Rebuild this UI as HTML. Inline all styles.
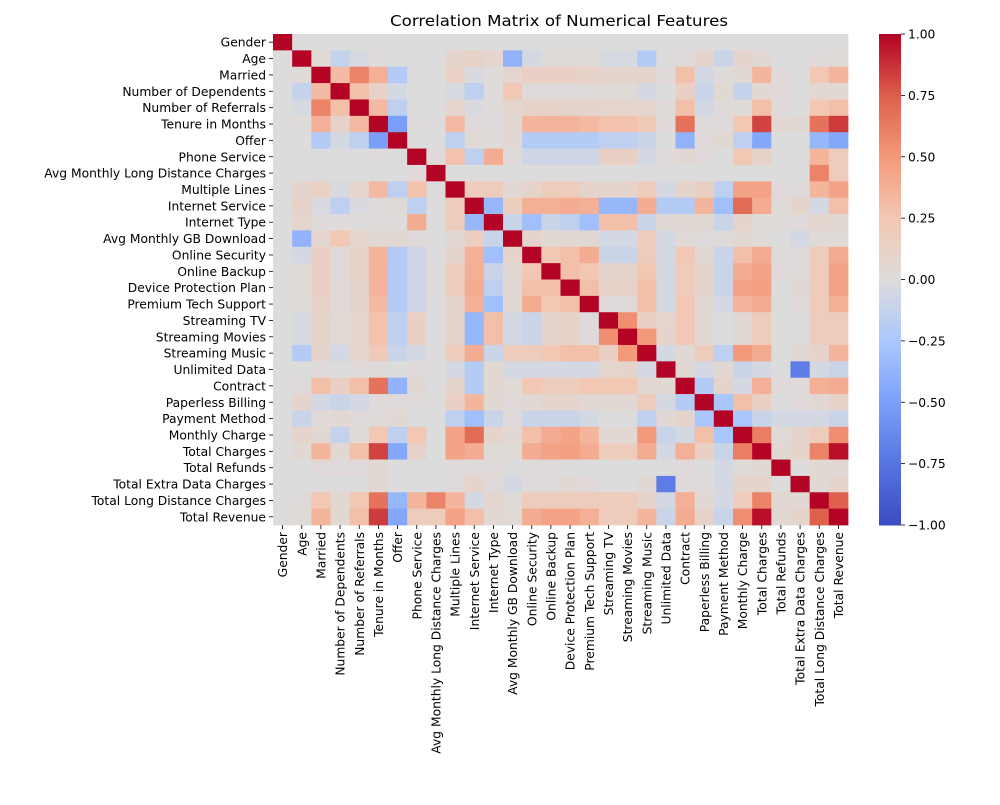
<!DOCTYPE html>
<html><head><meta charset="utf-8"><style>
body{margin:0;background:#fff}
svg{font-family:"DejaVu Sans","Liberation Sans",sans-serif}
</style></head><body>
<svg id="chart" width="1000" height="800" xmlns="http://www.w3.org/2000/svg">
<text x="559" y="26" text-anchor="middle" font-size="15" textLength="338" lengthAdjust="spacingAndGlyphs">Correlation Matrix of Numerical Features</text>
<g id="cells"></g>
<g id="ylabels"></g>
<g id="xlabels"></g>
<g id="cbar"></g>
</svg>
<script>
const features = ["Gender","Age","Married","Number of Dependents","Number of Referrals","Tenure in Months","Offer","Phone Service","Avg Monthly Long Distance Charges","Multiple Lines","Internet Service","Internet Type","Avg Monthly GB Download","Online Security","Online Backup","Device Protection Plan","Premium Tech Support","Streaming TV","Streaming Movies","Streaming Music","Unlimited Data","Contract","Paperless Billing","Payment Method","Monthly Charge","Total Charges","Total Refunds","Total Extra Data Charges","Total Long Distance Charges","Total Revenue"];
const lowerTriangle = [
[],
[0],
[0,0.03],
[0,-0.12,0.32],
[0,-0.03,0.6,0.3],
[0,0.01,0.38,0.12,0.33],
[0,0,-0.2,-0.05,-0.15,-0.5],
[0,0,0,0,0,0.01,0],
[0,0,0,0,0,0,0,0.02],
[0,0.1,0.14,-0.03,0.09,0.33,-0.15,0.28,0],
[0,0.12,-0.02,-0.15,-0.02,0.02,0.03,-0.15,0,0.2],
[0,0.08,0.01,0.01,0.01,0.01,0.01,0.4,0,0.2,-0.35],
[0,-0.38,0.08,0.25,0.08,0.05,0.05,0.02,0,0.05,0.18,-0.1],
[0,-0.05,0.15,0.02,0.12,0.35,-0.2,-0.08,0,0.1,0.38,-0.3,0.1],
[0,0.03,0.15,0.02,0.12,0.36,-0.2,-0.08,0,0.2,0.38,-0.1,0.05,0.25],
[0,0.03,0.15,0.02,0.1,0.36,-0.2,-0.08,0,0.2,0.4,-0.15,0.05,0.3,0.3],
[0,0.03,0.12,0.02,0.1,0.33,-0.2,-0.08,0,0.1,0.38,-0.3,0.05,0.4,0.25,0.3],
[0,-0.03,0.1,0.03,0.08,0.28,-0.15,0.15,0,0.1,-0.35,0.3,-0.05,-0.1,0.1,0.12,0.02],
[0,-0.03,0.1,0.03,0.08,0.28,-0.15,0.15,0,0.1,-0.35,0.3,-0.05,-0.1,0.1,0.12,0.02,0.55],
[0,-0.2,0.1,-0.05,0.08,0.22,-0.1,-0.05,0,0.2,0.4,-0.1,0.2,0.2,0.25,0.3,0.3,0.15,0.5],
[0,0,0.02,0,0.02,0.02,0,0.02,0,-0.05,-0.2,0.05,-0.05,-0.05,-0.05,-0.05,-0.05,0.08,0.1,-0.05],
[0,0.02,0.3,0.15,0.3,0.67,-0.38,0.05,0,0.1,-0.2,0.05,0.03,0.25,0.2,0.2,0.25,0.25,0.25,0.05,0.05],
[0,0.1,-0.05,-0.1,-0.05,0.01,0.02,0.02,0,0.15,0.35,0.05,0.02,0.05,0.1,0.1,0.05,0.05,0.05,0.2,-0.05,-0.2],
[0,-0.1,0.02,0.05,0.02,0.02,0.05,0,0,-0.15,-0.3,-0.1,0.02,-0.1,-0.1,-0.1,-0.05,0,0,-0.15,0.05,0.1,-0.25],
[0,0.1,0.05,-0.12,0.03,0.25,-0.15,0.25,0,0.45,0.7,0.1,0.05,0.3,0.4,0.45,0.35,0.05,0.05,0.5,-0.1,-0.05,0.3,-0.25],
[0,0.05,0.35,0.05,0.3,0.83,-0.45,0.12,0,0.45,0.4,0.03,0.03,0.4,0.45,0.47,0.4,0.2,0.2,0.4,-0.05,0.38,0.15,-0.1,0.62],
[0,0,0.02,0.02,0.02,0.05,0,0,0,0.02,0.02,0.02,0,0.02,0.02,0,0,0,0,0,0,0.02,0,-0.05,0.03,0.05],
[0,0,0,0,0,0.05,0,0,0,0.02,0.1,0.02,-0.05,0.02,0.02,0.05,0.02,0,0,0.05,-0.7,0.02,0.02,-0.05,0.1,0.1,0],
[0,0.02,0.25,0.05,0.25,0.67,-0.35,0.35,0.6,0.35,-0.05,0.08,0.03,0.2,0.2,0.2,0.2,0.2,0.2,0.1,-0.05,0.38,0.05,-0.05,0.2,0.6,0.05,0.05],
[0,0.03,0.35,0.05,0.3,0.85,-0.45,0.2,0.2,0.45,0.3,0.05,0.03,0.4,0.45,0.45,0.38,0.2,0.2,0.35,-0.1,0.4,0.12,-0.1,0.55,0.97,0.05,0.1,0.75]
];
const colorbarTicks = [1,0.75,0.5,0.25,0,-0.25,-0.5,-0.75,-1];
const colorbarTickLabels = ["1.00","0.75","0.50","0.25","0.00","−0.25","−0.50","−0.75","−1.00"];

const NS="http://www.w3.org/2000/svg";
const X0=273, Y0=34, W=575, H=491, n=features.length;
const cw=W/n, ch=H/n;
const xPos=i=>X0+i*cw, yPos=i=>Y0+i*ch;
const stops=[[-1,[59,76,192]],[-0.75,[86,115,224]],[-0.5,[123,159,249]],[-0.25,[170,199,253]],[0,[221,220,220]],[0.25,[242,200,180]],[0.5,[244,154,123]],[0.75,[222,96,77]],[1,[180,4,38]]];
function color(v){v=Math.max(-1,Math.min(1,v));for(let k=0;k<stops.length-1;k++){const [a,ca]=stops[k],[b,cb]=stops[k+1];if(v<=b){const t=(v-a)/(b-a);return `rgb(${ca.map((c,i)=>Math.round(c+(cb[i]-c)*t)).join(',')})`;}}return 'rgb(180,4,38)';}
function val(i,j){if(i===j)return 1;if(j<i)return (lowerTriangle[i]&&lowerTriangle[i][j]!==undefined)?lowerTriangle[i][j]:0;return val(j,i);}
function mk(tag,attrs,parent){const e=document.createElementNS(NS,tag);for(const k in attrs)e.setAttribute(k,attrs[k]);parent.appendChild(e);return e;}
const cells=document.getElementById('cells');
for(let i=0;i<n;i++)for(let j=0;j<n;j++){
 const r=mk('rect',{x:xPos(j),y:yPos(i),width:cw+0.4,height:ch+0.4,fill:color(val(i,j))},cells);
 
 
}
const yl=document.getElementById('ylabels'), xl=document.getElementById('xlabels');
features.forEach((f,i)=>{
 const cy=yPos(i)+ch/2;
 mk('line',{x1:X0-4,x2:X0,y1:cy,y2:cy,stroke:'#000','stroke-width':0.8},yl);
 const t=mk('text',{x:X0-7,y:cy+4.5,'text-anchor':'end','font-size':12.3},yl);t.textContent=f;
 
 
 const cx=xPos(i)+cw/2;
 mk('line',{x1:cx,x2:cx,y1:Y0+H,y2:Y0+H+4,stroke:'#000','stroke-width':0.8},xl);
 const u=mk('text',{x:0,y:0,'text-anchor':'end','font-size':12.3,transform:`translate(${cx+4.5},${Y0+H+7}) rotate(-90)`},xl);u.textContent=f;
 
 
});
const cb=document.getElementById('cbar');
const CX=879,CW=22;
for(let k=0;k<200;k++){const v=1-2*k/200;mk('rect',{x:CX,y:Y0+k*H/200,width:CW,height:H/200+0.5,fill:color(v)},cb);}
colorbarTicks.forEach((v,k)=>{
 const y=Y0+(1-v)/2*H;
 mk('line',{x1:CX+CW,x2:CX+CW+4,y1:y,y2:y,stroke:'#000','stroke-width':0.8},cb);
 const t=mk('text',{x:CX+CW+7,y:y+4.5,'font-size':12.3},cb);t.textContent=colorbarTickLabels[k];
 
 
});
</script>
</body></html>
